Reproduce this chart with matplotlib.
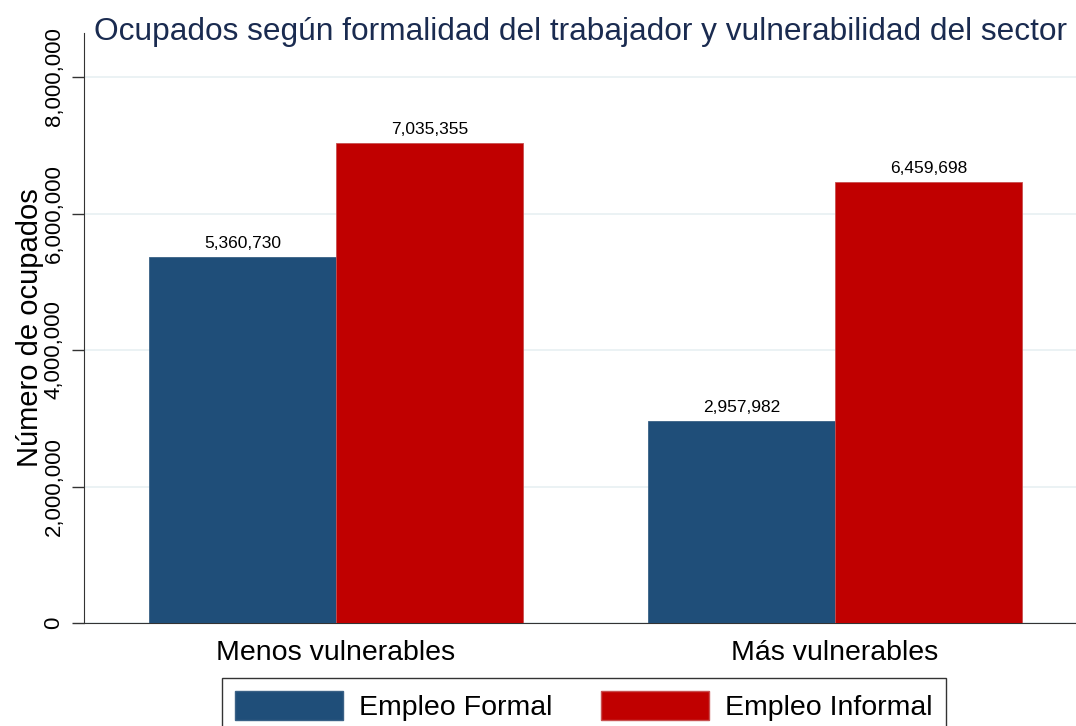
import matplotlib
matplotlib.use("Agg")
import matplotlib.pyplot as plt
import numpy as np
from matplotlib.patches import Patch

# Data
categorias = ["Menos vulnerables", "Más vulnerables"]
formal = [5360730, 2957982]
informal = [7035355, 6459698]
series = ["Empleo Formal", "Empleo Informal"]
yticks = [0, 2000000, 4000000, 6000000, 8000000]

COL_FORMAL = "#1f4e79"
COL_INFORMAL = "#c00000"
COL_TITLE = "#1a2b50"

plt.rcParams['font.family'] = ['Liberation Sans', 'DejaVu Sans']

fig = plt.figure(figsize=(10.76, 7.26), dpi=100)
ax = fig.add_axes([84/1076, 1-623/726, 1-84/1076, (623-33)/726])

x = np.arange(len(categorias))
w = 0.375
b1 = ax.bar(x - w/2, formal, w, color=COL_FORMAL, edgecolor="#3a6186", linewidth=0.6, zorder=3)
b2 = ax.bar(x + w/2, informal, w, color=COL_INFORMAL, edgecolor="#c85050", linewidth=0.6, zorder=3)

# value labels above bars
for bars in (b1, b2):
    for r in bars:
        ax.annotate(f"{int(r.get_height()):,}", (r.get_x() + r.get_width()/2, r.get_height()),
                    xytext=(0, 6.5), textcoords="offset points", ha="center", va="baseline",
                    fontsize=12.5, color="black")

ax.set_xlim(-0.505, 1.483)
ax.set_ylim(0, 8.645e6)
ax.set_yticks(yticks)
ax.set_yticklabels([f"{v:,}" for v in yticks], rotation=90, va="center", fontsize=16)
ax.set_xticks(x)
ax.set_xticklabels(categorias, fontsize=20.5)
ax.tick_params(axis="x", length=0, pad=12)
ax.tick_params(axis="y", length=9, width=1, color="#333333", pad=5)
ax.grid(axis="y", color="#e8f0f2", linewidth=1.2, zorder=0)
for s in ("top", "right"):
    ax.spines[s].set_visible(False)
ax.spines["left"].set_color("#333333")
ax.spines["bottom"].set_color("#333333")
ax.set_ylabel("Número de ocupados", fontsize=21)
ax.yaxis.set_label_coords(-0.040, 0.5)

fig.text(580/1076, 1-40/726, "Ocupados según formalidad del trabajador y vulnerabilidad del sector",
         fontsize=22.8, color=COL_TITLE, ha="center", va="baseline")

handles = [Patch(facecolor=COL_FORMAL, edgecolor="#3a6186"), Patch(facecolor=COL_INFORMAL, edgecolor="#c85050")]
leg = fig.legend(handles, series, loc="upper center", bbox_to_anchor=(584/1076, 1-678/726), ncol=2,
                 fontsize=20.5, frameon=True, fancybox=False, edgecolor="black",
                 handlelength=3.8, handleheight=1.2, columnspacing=1.7, handletextpad=0.56,
                 borderpad=0.45, borderaxespad=0)
leg.get_frame().set_linewidth(1.0)

fig.savefig("out.png", dpi=100)
